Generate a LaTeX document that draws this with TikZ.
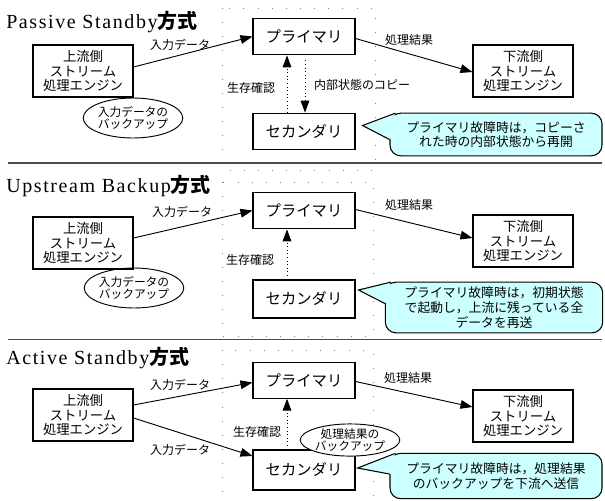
\documentclass[tikz,border=0pt]{standalone}
\usepackage{fontspec}
\usepackage{tikz}
\usetikzlibrary{arrows.meta,calc,shapes.geometric}
\newfontfamily\jp{Noto Sans CJK JP}
\newfontfamily\ttl{Liberation Serif}[LetterSpace=8]
\definecolor{notecyan}{RGB}{204,255,255}

\begin{document}
\begin{tikzpicture}[x=0.75pt,y=0.75pt,yscale=-1,xscale=1,
    enginebox/.style={draw, line width=0.8pt, minimum width=75pt, minimum height=39pt, inner sep=0pt, align=center, font=\jp\fontsize{10}{11}\selectfont},
    nodebox/.style={draw, line width=0.8pt, minimum width=76.5pt, minimum height=27.5pt, inner sep=0pt, font=\jp\fontsize{11.5}{13}\selectfont},
    backup/.style={draw, ellipse, line width=0.7pt, minimum width=63pt, minimum height=30pt, inner sep=0pt, align=center, font=\jp\fontsize{8.8}{9}\selectfont},
    note/.style={draw, fill=notecyan, rounded corners=8pt, line width=0.8pt, inner sep=0pt, align=center, font=\jp\fontsize{9.6}{11}\selectfont},
    lbl/.style={inner sep=0pt, font=\jp\fontsize{9}{10}\selectfont},
    arr/.style={-{Triangle[length=9pt,width=6.5pt]}, line width=0.7pt},
    dotarr/.style={arr, dotted},
    framedots/.style={draw=gray, line width=0.6pt, dash pattern=on 0.6pt off 10pt},
    sepline/.style={draw=black!70, line width=1pt}]
        \useasboundingbox (0,0) rectangle (605,500);

        %%%%%% Passive Standby
        %Dotted frame
        \draw [framedots] (222,8) rectangle (375,170) ;
        % Title
        \node [anchor=base west, inner sep=0pt] (title1) at (6,28) {\ttl\fontsize{15}{16}\selectfont Passive Standby\jp\bfseries 方式};
        % Engines and nodes
        \node [enginebox] (up1) at (83,71) {上流側\\ストリーム\\処理エンジン};
        \node [nodebox] (pri1) at (304,36.5) {プライマリ};
        \node [nodebox] (sec1) at (304,131.5) {セカンダリ};
        \node [enginebox] (down1) at (523,71) {下流側\\ストリーム\\処理エンジン};
        \node [backup] (bak1) at (133,118) {入力データの\\バックアップ};
        % Arrows
        \draw [arr] ($(up1.east)+(0,-4)$) -- (pri1.west) ;
        \draw [arr] ($(pri1.east)+(0,2)$) -- ($(down1.west)+(0,1)$) ;
        \draw [dotarr] ($(sec1.north)+(-17,0)$) -- ($(pri1.south)+(-17,0)$) ;
        \draw [dotarr] ($(pri1.south)+(1,5)$) -- ($(sec1.north)+(1,0)$) ;
        % Labels
        \node [lbl] (in1) at (180,45) {入力データ};
        \node [lbl] (res1) at (409,40) {処理結果};
        \node [lbl] (alive1) at (251,88) {生存確認};
        \node [lbl] (copy1) at (362,85) {内部状態のコピー};
        % Callout
        \node [note, minimum width=159pt, minimum height=32pt] (note1) at (496,134.5) {プライマリ故障時は，コピーさ\\れた時の内部状態から再開};
        \coordinate (tip1) at ($(sec1.east)+(7,-6)$);
        \fill [notecyan] (tip1) -- ($(note1.north west)+(6,2)$) -- ($(note1.west)+(2,5)$) -- cycle ;
        \draw [line width=0.8pt] ($(note1.north west)+(6,0.5)$) -- (tip1) -- ($(note1.west)+(0,5)$) ;
        % Separator
        \draw [sepline] (8,163) -- (602,163) ;

        %%%%%% Upstream Backup
        %Dotted frame
        \draw [framedots] (222,182) rectangle (373,336) ;
        % Title
        \node [anchor=base west, inner sep=0pt] (title2) at (6,192) {\ttl\fontsize{15}{16}\selectfont Upstream Backup\jp\bfseries 方式};
        % Engines and nodes
        \node [enginebox] (up2) at (83,243) {上流側\\ストリーム\\処理エンジン};
        \node [nodebox] (pri2) at (304,210.5) {プライマリ};
        \node [nodebox, minimum height=28.5pt] (sec2) at (304,299) {セカンダリ};
        \node [enginebox] (down2) at (523,241) {下流側\\ストリーム\\処理エンジン};
        \node [backup] (bak2) at (134,288) {入力データの\\バックアップ};
        % Arrows
        \draw [arr] ($(up2.east)+(0,-5)$) -- (pri2.west) ;
        \draw [arr] ($(pri2.east)+(0,-1)$) -- ($(down2.west)+(0,-3)$) ;
        \draw [dotarr] ($(sec2.north)+(-17,0)$) -- ($(pri2.south)+(-17,0)$) ;
        % Labels
        \node [lbl] (in2) at (182,212) {入力データ};
        \node [lbl] (res2) at (409,205) {処理結果};
        \node [lbl] (alive2) at (250,260) {生存確認};
        % Callout
        \node [note, minimum width=163pt, minimum height=38pt] (note2) at (494,307.5) {プライマリ故障時は，初期状態\\で起動し，上流に残っている全\\データを再送};
        \coordinate (tip2) at ($(sec2.east)+(3,-9)$);
        \fill [notecyan] (tip2) -- ($(note2.north west)+(6,2)$) -- ($(note2.west)+(2,-4)$) -- cycle ;
        \draw [line width=0.8pt] ($(note2.north west)+(6,0.5)$) -- (tip2) -- ($(note2.west)+(0,-4)$) ;
        % Separator
        \draw [sepline] (8,339.5) -- (602,339.5) ;

        %%%%%% Active Standby
        %Dotted frame
        \draw [framedots] (222,350) rectangle (373,510) ;
        % Title
        \node [anchor=base west, inner sep=0pt] (title3) at (6,364) {\ttl\fontsize{15}{16}\selectfont Active Standby\jp\bfseries 方式};
        % Engines and nodes
        \node [enginebox] (up3) at (83,415) {上流側\\ストリーム\\処理エンジン};
        \node [nodebox, minimum height=26.5pt] (pri3) at (304,380.5) {プライマリ};
        \node [nodebox, minimum height=30pt] (sec3) at (304,470) {セカンダリ};
        \node [enginebox] (down3) at (523,416) {下流側\\ストリーム\\処理エンジン};
        % Arrows
        \draw [arr] ($(up3.east)+(0,-10)$) -- ($(pri3.west)+(0,2)$) ;
        \draw [arr] ($(up3.east)+(0,3)$) -- ($(sec3.west)+(0,-14)$) ;
        \draw [arr] ($(pri3.east)+(0,1)$) -- ($(down3.west)+(0,-9)$) ;
        \draw [dotarr] ($(sec3.north)+(-17,0)$) -- ($(pri3.south)+(-17,0)$) ;
        % Backup ellipse on top of secondary
        \node [backup, fill=white, minimum width=63pt, minimum height=20pt] (bak3) at (350,440) {処理結果の\\バックアップ};
        % Labels
        \node [lbl] (in3a) at (180,385) {入力データ};
        \node [lbl] (in3b) at (180,450) {入力データ};
        \node [lbl] (res3) at (408,378) {処理結果};
        \node [lbl] (alive3) at (257,432) {生存確認};
        % Callout
        \node [note, minimum width=159pt, minimum height=34pt] (note3) at (496,476) {プライマリ故障時は，処理結果\\のバックアップを下流へ送信};
        \coordinate (tip3) at ($(sec3.east)+(2,-2)$);
        \fill [notecyan] (tip3) -- ($(note3.north west)+(6,2)$) -- ($(note3.west)+(2,-2)$) -- cycle ;
        \draw [line width=0.8pt] ($(note3.north west)+(6,0.5)$) -- (tip3) -- ($(note3.west)+(0,-2)$) ;

\end{tikzpicture}
\end{document}
